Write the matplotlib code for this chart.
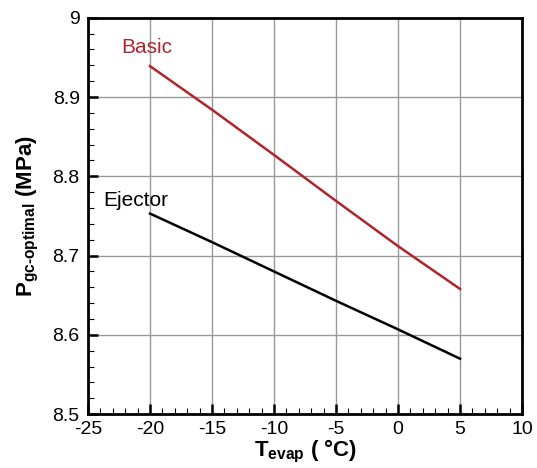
import numpy as np
import matplotlib
matplotlib.use('Agg')
import matplotlib.pyplot as plt
from matplotlib.ticker import MultipleLocator, FuncFormatter

plt.rcParams['font.family'] = ['Liberation Sans', 'DejaVu Sans']
plt.rcParams['axes.unicode_minus'] = False
plt.rcParams['mathtext.fontset'] = 'custom'
plt.rcParams['mathtext.rm'] = 'Liberation Sans:bold'
plt.rcParams['mathtext.bf'] = 'Liberation Sans:bold'
plt.rcParams['mathtext.it'] = 'Liberation Sans:bold'
plt.rcParams['mathtext.default'] = 'bf'

# data
t_evap = [-20, -15, -10, -5, 0, 5]
p_basic = [8.939, 8.884, 8.827, 8.769, 8.712, 8.658]
p_ejector = [8.753, 8.717, 8.680, 8.643, 8.607, 8.570]

fig = plt.figure(figsize=(5.37, 4.68), dpi=100)
ax = fig.add_axes([0.164, 0.115, 0.808, 0.847])

ax.plot(t_evap, p_basic, color='#b0242c', lw=1.8)
ax.plot(t_evap, p_ejector, color='black', lw=1.8)

ax.text(-22.3, 8.962, 'Basic', color='#b0242c', fontsize=15, va='center')
ax.text(-23.8, 8.77, 'Ejector', color='black', fontsize=15, va='center')

ax.set_xlim(-25, 10)
ax.set_ylim(8.5, 9.0)
ax.xaxis.set_major_locator(MultipleLocator(5))
ax.xaxis.set_minor_locator(MultipleLocator(1))
ax.yaxis.set_major_locator(MultipleLocator(0.1))
ax.yaxis.set_minor_locator(MultipleLocator(0.02))
ax.yaxis.set_major_formatter(FuncFormatter(lambda v, p: '9' if abs(v - 9) < 1e-6 else '%.1f' % v))

ax.grid(True, which='major', color='#999999', lw=1.0)
ax.tick_params(which='both', direction='in', top=False, right=False, labelsize=14)
ax.tick_params(which='major', length=7, width=1.8)
ax.tick_params(which='minor', length=4, width=0.8)
ax.tick_params(axis='y', which='major', pad=6)
ax.tick_params(axis='x', which='major', pad=5)
for s in ax.spines.values():
    s.set_linewidth(2)

ax.set_xlabel('$T_{evap}$ ( °C)', fontsize=16, fontweight='bold', labelpad=0)
ax.set_ylabel(r'$P_{gc\text{-}optimal}$ (MPa)', fontsize=16, fontweight='bold', labelpad=8)

fig.savefig('out.png', dpi=100)
